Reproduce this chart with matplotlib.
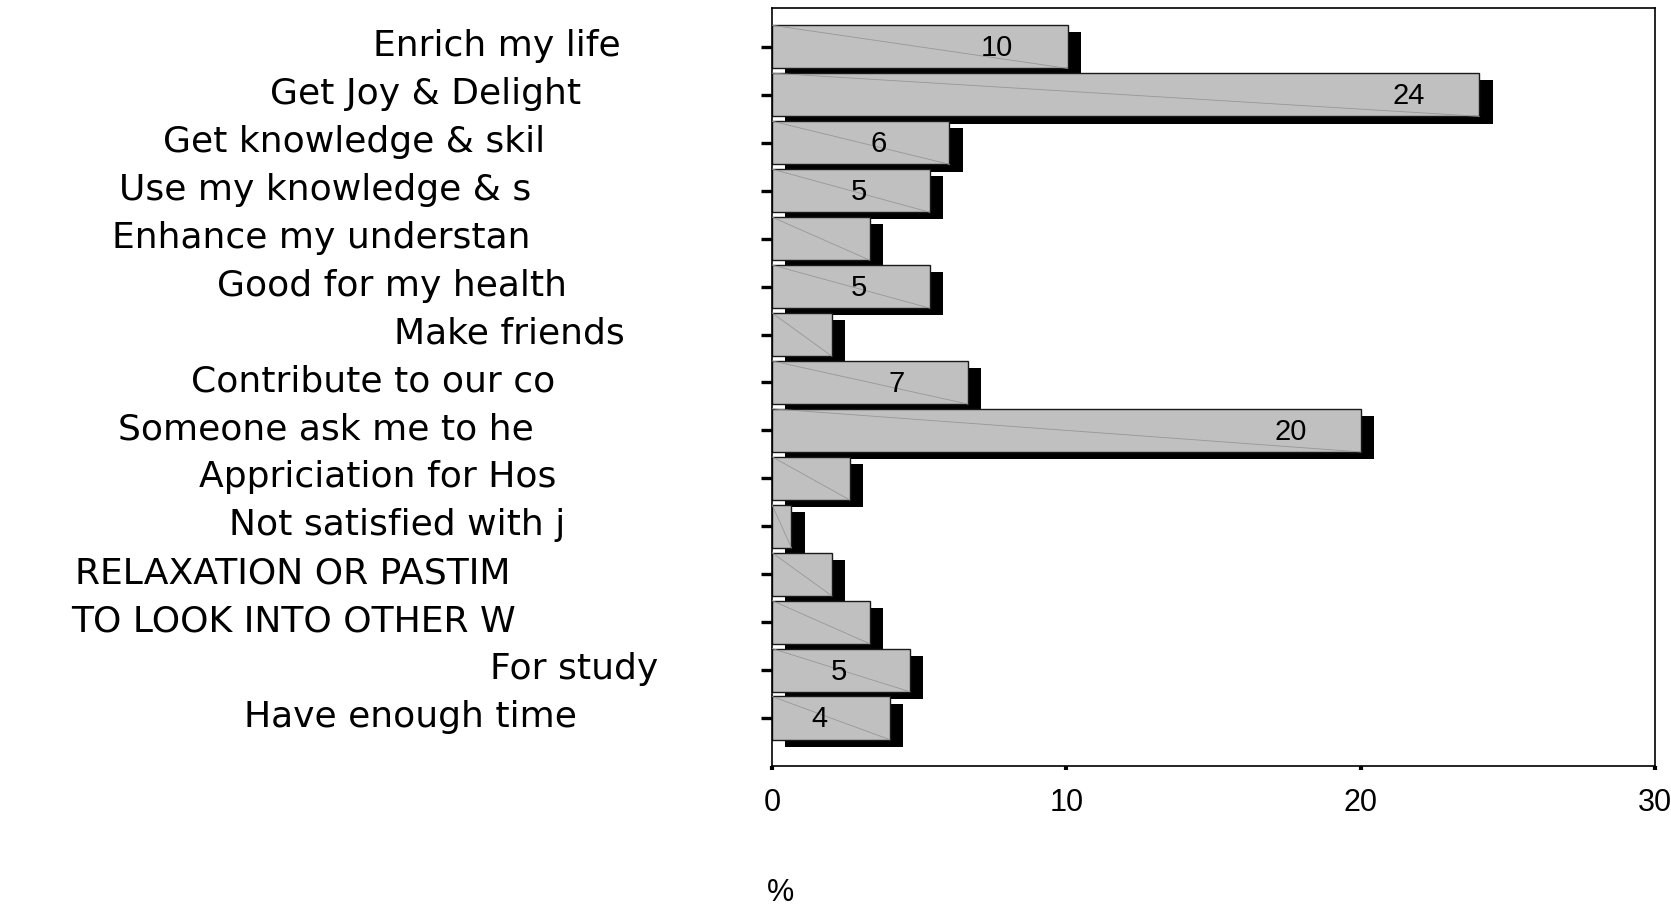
import matplotlib
matplotlib.use("Agg")
import matplotlib.pyplot as plt
import matplotlib.patheffects as pe
from matplotlib import transforms

# reasons, top to bottom, as they appear (truncated) in the chart
reasons = ["Enrich my life", "Get Joy & Delight", "Get knowledge & skil",
           "Use my knowledge & s", "Enhance my understan", "Good for my health",
           "Make friends", "Contribute to our co", "Someone ask me to he",
           "Appriciation for Hos", "Not satisfied with j", "RELAXATION OR PASTIM",
           "TO LOOK INTO OTHER W", "For study", "Have enough time"]
percent = [10.04, 24.03, 6.03, 5.36, 3.32, 5.36, 2.03, 6.65, 20.01,
           2.64, 0.66, 2.03, 3.32, 4.68, 4.00]
xticks = [0, 10, 20, 30]

# right edge of every category label, in figure pixels (the original export
# left them ragged)
label_right_px = [621, 581, 545, 531, 531, 567, 625, 555, 534,
                  556, 565, 511, 516, 658, 577]

W, H = 1671, 908
fig = plt.figure(figsize=(W / 100, H / 100), dpi=100)
ax = fig.add_axes([772 / W, 1 - 766 / H, (1655 - 772) / W, (766 - 8) / H])

narrow = ["Liberation Sans Narrow", "Liberation Sans", "DejaVu Sans"]

ypos = list(range(len(reasons)))
shadow = [pe.SimplePatchShadow(offset=(9.6, -5.2), shadow_rgbFace="black", alpha=1.0),
          pe.Normal()]
bars = ax.barh(ypos, percent, height=0.9, color="#c0c0c0",
               edgecolor="#1a1a1a", linewidth=1.0)
for b in bars:
    b.set_path_effects(shadow)

# faint diagonal across each bar (gradient artefact of the original)
for y, v in zip(ypos, percent):
    ax.plot([0, v], [y - 0.45, y + 0.45], color="#979797", lw=0.6, zorder=3)
    if v >= 3.5:
        ax.text(v - 2.4, y + 0.03, f"{v:.0f}", ha="center", va="center",
                fontsize=21, family=narrow, zorder=4)

ax.set_xlim(0, 30)
ax.set_ylim(15.0, -0.81)
ax.set_xticks(xticks)
ax.set_xticklabels([str(t) for t in xticks], family=narrow, fontsize=22)
ax.set_yticks(ypos)
ax.set_yticklabels([])
ax.tick_params(axis="y", direction="out", length=8, width=2.4, color="black")
ax.tick_params(axis="x", direction="out", length=3, width=3, pad=13)
for s in ax.spines.values():
    s.set_linewidth(1.2)
    s.set_color("black")

trans = transforms.blended_transform_factory(fig.transFigure, ax.transData)
for y, name, xr in zip(ypos, reasons, label_right_px):
    fig.text(xr / W, y + 0.19, name, transform=trans, ha="right", va="baseline",
             fontsize=26, family="DejaVu Sans")

ax.text(0.3, 1 - 893 / H, "%", transform=transforms.blended_transform_factory(
    ax.transData, fig.transFigure), ha="center", va="center",
    fontsize=22, family=narrow)

fig.savefig("out.png", dpi=100)
